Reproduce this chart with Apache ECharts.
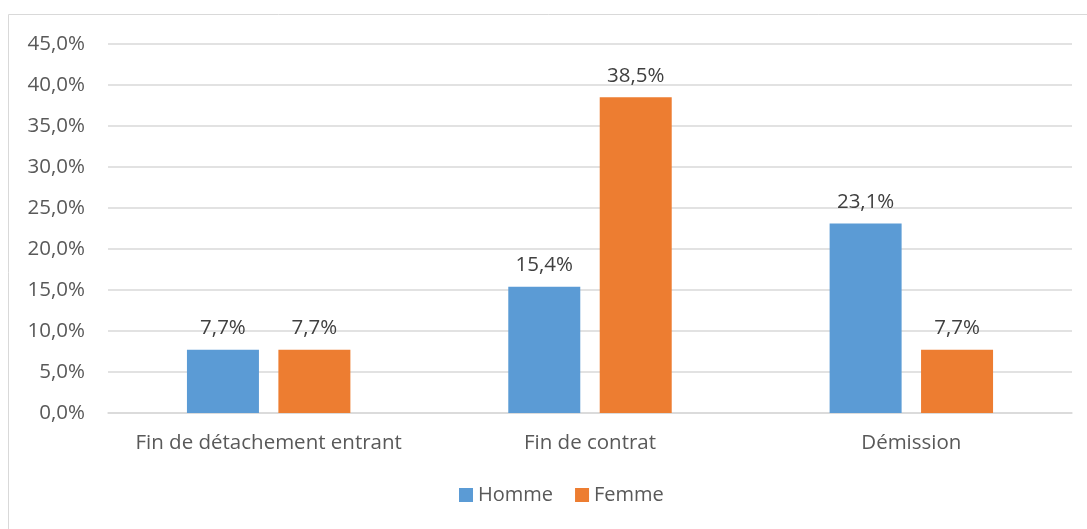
<!DOCTYPE html>
<html>
<head>
<meta charset="utf-8">
<script src="https://cdn.jsdelivr.net/npm/echarts@6/dist/echarts.min.js"></script>
<style>
  html, body { margin: 0; padding: 0; background: #fff; }
  #chart { width: 1087px; height: 529px; }
</style>
</head>
<body>
<div id="chart"></div>
<script>
const categories = ["Fin de détachement entrant", "Fin de contrat", "Démission"];
const homme = [7.7, 15.4, 23.1];
const femme = [7.7, 38.5, 7.7];

const chart = echarts.init(document.getElementById("chart"));

const fontFamily = "'Open Sans', 'DejaVu Sans', sans-serif";
const textColor = "#595959";

function pct(v, digits) {
  return v.toFixed(digits).replace(".", ",") + "%";
}

const labelStyle = {
  show: true,
  position: "top",
  distance: 11,
  color: "#404040",
  fontFamily: fontFamily,
  fontSize: 20.5,
  formatter: (p) => pct(p.value, 1)
};

chart.setOption({
  animation: false,
  graphic: [
    {
      type: "rect",
      shape: { x: 8.5, y: 14.5, width: 1090, height: 530 },
      style: { fill: "none", stroke: "#d9d9d9", lineWidth: 1 },
      silent: true
    }
  ],
  grid: { left: 108, right: 15, top: 44, bottom: 116 },
  legend: {
    bottom: 19,
    left: 454,
    itemWidth: 14,
    itemHeight: 14,
    itemGap: 22,
    icon: "rect",
    textStyle: { color: textColor, fontFamily: fontFamily, fontSize: 20 },
    data: ["Homme", "Femme"]
  },
  xAxis: {
    type: "category",
    data: categories,
    axisLine: { lineStyle: { color: "#d9d9d9", width: 1.5 } },
    axisTick: { show: false },
    axisLabel: {
      interval: 0,
      hideOverlap: false,
      color: textColor,
      fontFamily: fontFamily,
      fontSize: 20.5,
      margin: 20
    }
  },
  yAxis: {
    type: "value",
    min: 0,
    max: 45,
    interval: 5,
    axisLine: { show: false },
    axisTick: { show: false },
    splitLine: { lineStyle: { color: "#d9d9d9", width: 1.5 } },
    axisLabel: {
      color: textColor,
      fontFamily: fontFamily,
      fontSize: 20.5,
      margin: 23,
      formatter: (v) => pct(v, 1)
    }
  },
  series: [
    {
      name: "Homme",
      type: "bar",
      data: homme,
      barWidth: 72,
      barGap: "27%",
      itemStyle: { color: "#5b9bd5" },
      label: labelStyle
    },
    {
      name: "Femme",
      type: "bar",
      data: femme,
      barWidth: 72,
      barGap: "27%",
      itemStyle: { color: "#ed7d31" },
      label: labelStyle
    }
  ]
});

window.addEventListener("resize", () => chart.resize());
</script>
</body>
</html>
